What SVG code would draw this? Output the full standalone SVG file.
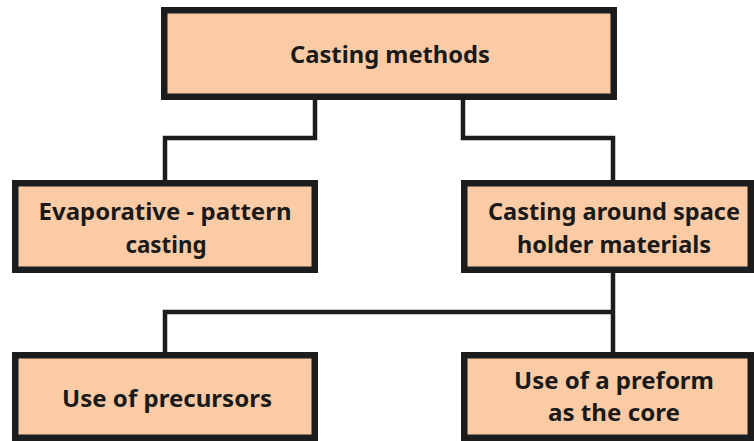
<svg xmlns="http://www.w3.org/2000/svg" width="754" height="441" viewBox="0 0 754 441">
<style>
.box{fill:#FBCBA6;stroke:#1c1c1c;stroke-width:6.5}
.conn{fill:none;stroke:#1c1c1c;stroke-width:4.5;stroke-linejoin:miter}
text{font-family:"Noto Sans","Open Sans","DejaVu Sans",sans-serif;font-weight:bold;font-size:23.5px;fill:#1a1a1a;text-anchor:middle}
</style>
<rect width="754" height="441" fill="#ffffff"/>
<g id="connectors">
<path class="conn" d="M315,100 V138 H165 V180"/>
<path class="conn" d="M463,100 V138 H613 V180"/>
<path class="conn" d="M613,273 V352"/>
<path class="conn" d="M613,312 H165 V352"/>
</g>
<g id="casting-methods">
<rect class="box" x="164.25" y="10.25" width="449.5" height="86.5"/>
<text x="390" y="63" textLength="200" lengthAdjust="spacingAndGlyphs">Casting methods</text>
</g>
<g id="evaporative-pattern-casting">
<rect class="box" x="15.25" y="183.25" width="299.5" height="86.5"/>
<text x="165" y="220" textLength="253" lengthAdjust="spacingAndGlyphs">Evaporative - pattern</text>
<text x="166" y="253" textLength="81" lengthAdjust="spacingAndGlyphs">casting</text>
</g>
<g id="casting-around-space-holder">
<rect class="box" x="464.25" y="183.25" width="286.5" height="86.5"/>
<text x="614" y="220" textLength="252" lengthAdjust="spacingAndGlyphs">Casting around space</text>
<text x="614" y="253" textLength="194" lengthAdjust="spacingAndGlyphs">holder materials</text>
</g>
<g id="use-of-precursors">
<rect class="box" x="15.25" y="355.25" width="299.5" height="82.5"/>
<text x="167" y="407" textLength="210" lengthAdjust="spacingAndGlyphs">Use of precursors</text>
</g>
<g id="use-of-preform">
<rect class="box" x="464.25" y="355.25" width="286.5" height="82.5"/>
<text x="614" y="389" textLength="200" lengthAdjust="spacingAndGlyphs">Use of a preform</text>
<text x="614" y="421" textLength="132" lengthAdjust="spacingAndGlyphs">as the core</text>
</g>
</svg>
